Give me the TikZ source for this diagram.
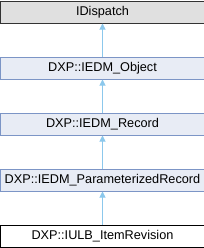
\documentclass[tikz,border=0pt]{standalone}
\usepackage{fontspec}
\setmainfont{Liberation Sans}
\usetikzlibrary{arrows.meta}
\definecolor{boxfill}{HTML}{E8ECF5}
\definecolor{boxline}{HTML}{7C95C6}
\definecolor{grayfill}{HTML}{E0E0E0}
\definecolor{arrowcol}{HTML}{8CC8EC}
\tikzset{
  cls/.style={draw=boxline, fill=boxfill, line width=1bp, minimum width=203bp, minimum height=22bp, inner sep=0pt, font=\fontsize{12.7bp}{14bp}\selectfont, anchor=north west},
  ext/.style={cls, draw=black!80, fill=grayfill},
  cur/.style={cls, draw=black, fill=white},
  inh/.style={draw=arrowcol, line width=1bp, -{Triangle[width=6bp,length=6bp]}}
}
\begin{document}
\begin{tikzpicture}[x=1bp,y=-1bp]
\useasboundingbox (0,0) rectangle (204,248);
\node[ext] (a) at (0.5,0.5) {IDispatch};
\node[cls] (b) at (0.5,56.5) {DXP::IEDM\_Object};
\node[cls] (c) at (0.5,112.5) {DXP::IEDM\_Record};
\node[cls] (d) at (0.5,168.5) {DXP::IEDM\_ParameterizedRecord};
\node[cur] (e) at (0.5,224.5) {DXP::IULB\_ItemRevision};
\draw[inh] (b.north) -- (a.south);
\draw[inh] (c.north) -- (b.south);
\draw[inh] (d.north) -- (c.south);
\draw[inh] (e.north) -- (d.south);
\end{tikzpicture}
\end{document}
